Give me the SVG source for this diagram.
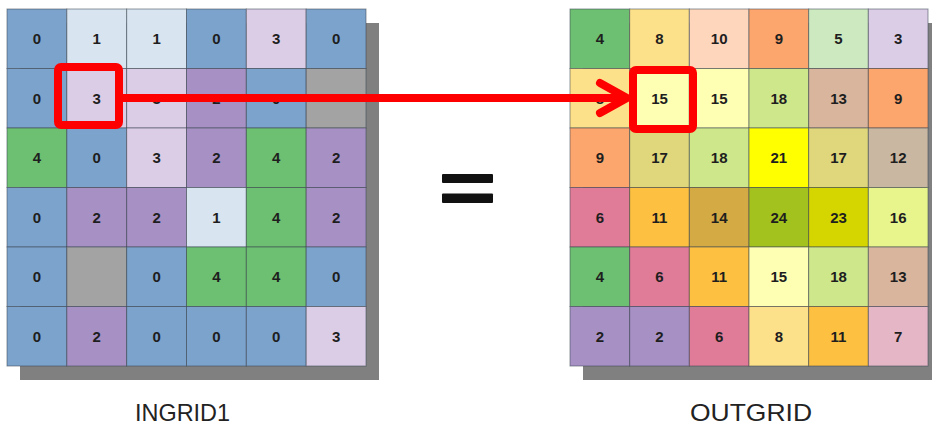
<svg xmlns="http://www.w3.org/2000/svg" width="932" height="427" viewBox="0 0 932 427">
<style>
.cell rect{stroke:#3c4650;stroke-opacity:0.55;stroke-width:1}
.cell text{font-family:"Liberation Sans",Arial,sans-serif;font-size:15px;font-weight:bold;fill:#1e1e1e;text-anchor:middle}
.B{fill:#7ca3cc}.LB{fill:#d8e4f0}.LP{fill:#dccde6}.P{fill:#a690c4}.G{fill:#6dbf71}.GR{fill:#a3a3a3}
.Y8{fill:#fde08a}.PE{fill:#fdd6bc}.OR{fill:#fca56c}.LG{fill:#cde9c0}.LY{fill:#feffb3}.YG{fill:#cfe78b}.TN{fill:#d8b59c}
.KH{fill:#e0d67c}.YE{fill:#ffff00}.GT{fill:#cab7a2}.PK{fill:#e07b98}.OY{fill:#fdc041}.DG{fill:#d4aa44}.OL{fill:#a4c21e}.OLY{fill:#d5d600}.LYG{fill:#e8f58c}.LPK{fill:#e5b6c6}
.shadow{fill:#808080}
.label{font-family:"Liberation Sans",Arial,sans-serif;font-size:24px;fill:#222;text-anchor:middle}
.red{fill:none;stroke:#ff0000;stroke-width:8;stroke-linecap:round;stroke-linejoin:round}
</style>
<rect width="932" height="427" fill="#ffffff"/>
<rect class="shadow" x="20" y="23" width="359" height="357"/>
<rect class="shadow" x="583" y="23" width="358" height="357"/>

<g id="ingrid1">
<g id="in-r0c0" class="cell"><rect class="B" x="7" y="9" width="59.83" height="59.5"/><text x="36.9" y="44">0</text></g>
<g id="in-r0c1" class="cell"><rect class="LB" x="66.83" y="9" width="59.83" height="59.5"/><text x="96.7" y="44">1</text></g>
<g id="in-r0c2" class="cell"><rect class="LB" x="126.67" y="9" width="59.83" height="59.5"/><text x="156.6" y="44">1</text></g>
<g id="in-r0c3" class="cell"><rect class="B" x="186.5" y="9" width="59.83" height="59.5"/><text x="216.4" y="44">0</text></g>
<g id="in-r0c4" class="cell"><rect class="LP" x="246.33" y="9" width="59.83" height="59.5"/><text x="276.2" y="44">3</text></g>
<g id="in-r0c5" class="cell"><rect class="B" x="306.17" y="9" width="59.83" height="59.5"/><text x="336.1" y="44">0</text></g>

<g id="in-r1c0" class="cell"><rect class="B" x="7" y="68.5" width="59.83" height="59.5"/><text x="36.9" y="103.5">0</text></g>
<g id="in-r1c1" class="cell"><rect class="LP" x="66.83" y="68.5" width="59.83" height="59.5"/><text x="96.7" y="103.5">3</text></g>
<g id="in-r1c2" class="cell"><rect class="LP" x="126.67" y="68.5" width="59.83" height="59.5"/><text x="156.6" y="103.5">3</text></g>
<g id="in-r1c3" class="cell"><rect class="P" x="186.5" y="68.5" width="59.83" height="59.5"/><text x="216.4" y="103.5">2</text></g>
<g id="in-r1c4" class="cell"><rect class="B" x="246.33" y="68.5" width="59.83" height="59.5"/><text x="276.2" y="103.5">0</text></g>
<g id="in-r1c5" class="cell"><rect class="GR" x="306.17" y="68.5" width="59.83" height="59.5"/></g>

<g id="in-r2c0" class="cell"><rect class="G" x="7" y="128" width="59.83" height="59.5"/><text x="36.9" y="163">4</text></g>
<g id="in-r2c1" class="cell"><rect class="B" x="66.83" y="128" width="59.83" height="59.5"/><text x="96.7" y="163">0</text></g>
<g id="in-r2c2" class="cell"><rect class="LP" x="126.67" y="128" width="59.83" height="59.5"/><text x="156.6" y="163">3</text></g>
<g id="in-r2c3" class="cell"><rect class="P" x="186.5" y="128" width="59.83" height="59.5"/><text x="216.4" y="163">2</text></g>
<g id="in-r2c4" class="cell"><rect class="G" x="246.33" y="128" width="59.83" height="59.5"/><text x="276.2" y="163">4</text></g>
<g id="in-r2c5" class="cell"><rect class="P" x="306.17" y="128" width="59.83" height="59.5"/><text x="336.1" y="163">2</text></g>

<g id="in-r3c0" class="cell"><rect class="B" x="7" y="187.5" width="59.83" height="59.5"/><text x="36.9" y="222.5">0</text></g>
<g id="in-r3c1" class="cell"><rect class="P" x="66.83" y="187.5" width="59.83" height="59.5"/><text x="96.7" y="222.5">2</text></g>
<g id="in-r3c2" class="cell"><rect class="P" x="126.67" y="187.5" width="59.83" height="59.5"/><text x="156.6" y="222.5">2</text></g>
<g id="in-r3c3" class="cell"><rect class="LB" x="186.5" y="187.5" width="59.83" height="59.5"/><text x="216.4" y="222.5">1</text></g>
<g id="in-r3c4" class="cell"><rect class="G" x="246.33" y="187.5" width="59.83" height="59.5"/><text x="276.2" y="222.5">4</text></g>
<g id="in-r3c5" class="cell"><rect class="P" x="306.17" y="187.5" width="59.83" height="59.5"/><text x="336.1" y="222.5">2</text></g>

<g id="in-r4c0" class="cell"><rect class="B" x="7" y="247" width="59.83" height="59.5"/><text x="36.9" y="282">0</text></g>
<g id="in-r4c1" class="cell"><rect class="GR" x="66.83" y="247" width="59.83" height="59.5"/></g>
<g id="in-r4c2" class="cell"><rect class="B" x="126.67" y="247" width="59.83" height="59.5"/><text x="156.6" y="282">0</text></g>
<g id="in-r4c3" class="cell"><rect class="G" x="186.5" y="247" width="59.83" height="59.5"/><text x="216.4" y="282">4</text></g>
<g id="in-r4c4" class="cell"><rect class="G" x="246.33" y="247" width="59.83" height="59.5"/><text x="276.2" y="282">4</text></g>
<g id="in-r4c5" class="cell"><rect class="B" x="306.17" y="247" width="59.83" height="59.5"/><text x="336.1" y="282">0</text></g>

<g id="in-r5c0" class="cell"><rect class="B" x="7" y="306.5" width="59.83" height="59.5"/><text x="36.9" y="341.5">0</text></g>
<g id="in-r5c1" class="cell"><rect class="P" x="66.83" y="306.5" width="59.83" height="59.5"/><text x="96.7" y="341.5">2</text></g>
<g id="in-r5c2" class="cell"><rect class="B" x="126.67" y="306.5" width="59.83" height="59.5"/><text x="156.6" y="341.5">0</text></g>
<g id="in-r5c3" class="cell"><rect class="B" x="186.5" y="306.5" width="59.83" height="59.5"/><text x="216.4" y="341.5">0</text></g>
<g id="in-r5c4" class="cell"><rect class="B" x="246.33" y="306.5" width="59.83" height="59.5"/><text x="276.2" y="341.5">0</text></g>
<g id="in-r5c5" class="cell"><rect class="LP" x="306.17" y="306.5" width="59.83" height="59.5"/><text x="336.1" y="341.5">3</text></g>
</g>

<g id="outgrid">
<g id="out-r0c0" class="cell"><rect class="G" x="570" y="9" width="59.67" height="59.5"/><text x="599.8" y="44">4</text></g>
<g id="out-r0c1" class="cell"><rect class="Y8" x="629.67" y="9" width="59.67" height="59.5"/><text x="659.5" y="44">8</text></g>
<g id="out-r0c2" class="cell"><rect class="PE" x="689.33" y="9" width="59.67" height="59.5"/><text x="719.2" y="44">10</text></g>
<g id="out-r0c3" class="cell"><rect class="OR" x="749" y="9" width="59.67" height="59.5"/><text x="778.8" y="44">9</text></g>
<g id="out-r0c4" class="cell"><rect class="LG" x="808.67" y="9" width="59.67" height="59.5"/><text x="838.5" y="44">5</text></g>
<g id="out-r0c5" class="cell"><rect class="LP" x="868.33" y="9" width="59.67" height="59.5"/><text x="898.2" y="44">3</text></g>

<g id="out-r1c0" class="cell"><rect class="Y8" x="570" y="68.5" width="59.67" height="59.5"/><text x="599.8" y="103.5">8</text></g>
<g id="out-r1c1" class="cell"><rect class="LY" x="629.67" y="68.5" width="59.67" height="59.5"/><text x="659.5" y="103.5">15</text></g>
<g id="out-r1c2" class="cell"><rect class="LY" x="689.33" y="68.5" width="59.67" height="59.5"/><text x="719.2" y="103.5">15</text></g>
<g id="out-r1c3" class="cell"><rect class="YG" x="749" y="68.5" width="59.67" height="59.5"/><text x="778.8" y="103.5">18</text></g>
<g id="out-r1c4" class="cell"><rect class="TN" x="808.67" y="68.5" width="59.67" height="59.5"/><text x="838.5" y="103.5">13</text></g>
<g id="out-r1c5" class="cell"><rect class="OR" x="868.33" y="68.5" width="59.67" height="59.5"/><text x="898.2" y="103.5">9</text></g>

<g id="out-r2c0" class="cell"><rect class="OR" x="570" y="128" width="59.67" height="59.5"/><text x="599.8" y="163">9</text></g>
<g id="out-r2c1" class="cell"><rect class="KH" x="629.67" y="128" width="59.67" height="59.5"/><text x="659.5" y="163">17</text></g>
<g id="out-r2c2" class="cell"><rect class="YG" x="689.33" y="128" width="59.67" height="59.5"/><text x="719.2" y="163">18</text></g>
<g id="out-r2c3" class="cell"><rect class="YE" x="749" y="128" width="59.67" height="59.5"/><text x="778.8" y="163">21</text></g>
<g id="out-r2c4" class="cell"><rect class="KH" x="808.67" y="128" width="59.67" height="59.5"/><text x="838.5" y="163">17</text></g>
<g id="out-r2c5" class="cell"><rect class="GT" x="868.33" y="128" width="59.67" height="59.5"/><text x="898.2" y="163">12</text></g>

<g id="out-r3c0" class="cell"><rect class="PK" x="570" y="187.5" width="59.67" height="59.5"/><text x="599.8" y="222.5">6</text></g>
<g id="out-r3c1" class="cell"><rect class="OY" x="629.67" y="187.5" width="59.67" height="59.5"/><text x="659.5" y="222.5">11</text></g>
<g id="out-r3c2" class="cell"><rect class="DG" x="689.33" y="187.5" width="59.67" height="59.5"/><text x="719.2" y="222.5">14</text></g>
<g id="out-r3c3" class="cell"><rect class="OL" x="749" y="187.5" width="59.67" height="59.5"/><text x="778.8" y="222.5">24</text></g>
<g id="out-r3c4" class="cell"><rect class="OLY" x="808.67" y="187.5" width="59.67" height="59.5"/><text x="838.5" y="222.5">23</text></g>
<g id="out-r3c5" class="cell"><rect class="LYG" x="868.33" y="187.5" width="59.67" height="59.5"/><text x="898.2" y="222.5">16</text></g>

<g id="out-r4c0" class="cell"><rect class="G" x="570" y="247" width="59.67" height="59.5"/><text x="599.8" y="282">4</text></g>
<g id="out-r4c1" class="cell"><rect class="PK" x="629.67" y="247" width="59.67" height="59.5"/><text x="659.5" y="282">6</text></g>
<g id="out-r4c2" class="cell"><rect class="OY" x="689.33" y="247" width="59.67" height="59.5"/><text x="719.2" y="282">11</text></g>
<g id="out-r4c3" class="cell"><rect class="LY" x="749" y="247" width="59.67" height="59.5"/><text x="778.8" y="282">15</text></g>
<g id="out-r4c4" class="cell"><rect class="YG" x="808.67" y="247" width="59.67" height="59.5"/><text x="838.5" y="282">18</text></g>
<g id="out-r4c5" class="cell"><rect class="TN" x="868.33" y="247" width="59.67" height="59.5"/><text x="898.2" y="282">13</text></g>

<g id="out-r5c0" class="cell"><rect class="P" x="570" y="306.5" width="59.67" height="59.5"/><text x="599.8" y="341.5">2</text></g>
<g id="out-r5c1" class="cell"><rect class="P" x="629.67" y="306.5" width="59.67" height="59.5"/><text x="659.5" y="341.5">2</text></g>
<g id="out-r5c2" class="cell"><rect class="PK" x="689.33" y="306.5" width="59.67" height="59.5"/><text x="719.2" y="341.5">6</text></g>
<g id="out-r5c3" class="cell"><rect class="Y8" x="749" y="306.5" width="59.67" height="59.5"/><text x="778.8" y="341.5">8</text></g>
<g id="out-r5c4" class="cell"><rect class="OY" x="808.67" y="306.5" width="59.67" height="59.5"/><text x="838.5" y="341.5">11</text></g>
<g id="out-r5c5" class="cell"><rect class="LPK" x="868.33" y="306.5" width="59.67" height="59.5"/><text x="898.2" y="341.5">7</text></g>
</g>

<g id="equals">
<rect x="442" y="174" width="51" height="9" rx="1" fill="#111"/>
<rect x="442" y="193.5" width="51" height="9.5" rx="1" fill="#111"/>
</g>

<g id="label-ingrid1"><text class="label" x="182.5" y="421" textLength="95" lengthAdjust="spacingAndGlyphs">INGRID1</text></g>
<g id="label-outgrid"><text class="label" x="751" y="421" textLength="122" lengthAdjust="spacingAndGlyphs">OUTGRID</text></g>

<g id="highlight-in"><rect class="red" x="58" y="67" width="61" height="58" rx="3"/></g>
<g id="highlight-out"><rect class="red" x="633" y="70" width="60" height="59" rx="3"/></g>

<g id="connectors">
<line class="red" x1="120" y1="98" x2="624" y2="98"/>
<polyline class="red" points="600,83 627,98 600,113"/>
</g>
</svg>
